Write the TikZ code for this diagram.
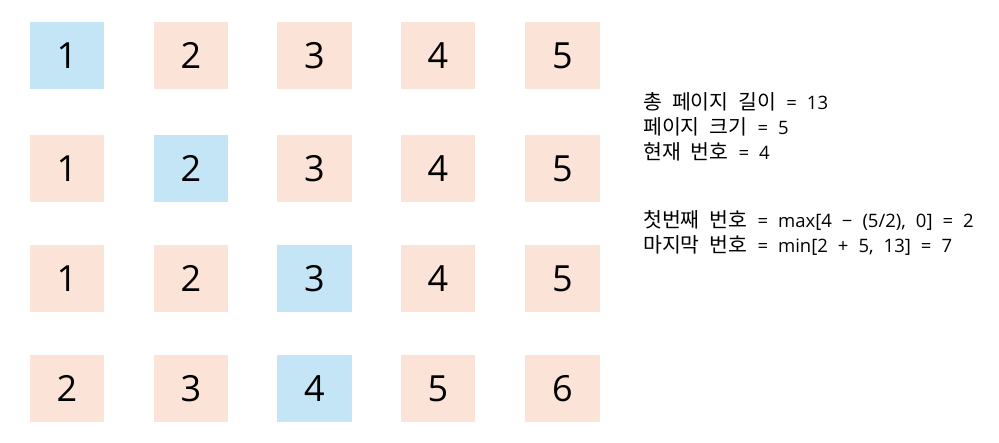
\documentclass[tikz,border=0pt]{standalone}
\usepackage{fontspec}
\setmainfont{Open Sans}
\newfontfamily\krfont{Noto Sans CJK KR}
\newcommand\kr[1]{{\krfont\fontsize{20.5}{22}\selectfont #1}}
\newcommand\infofont{\fontsize{18.5}{20}\selectfont\spaceskip 10pt\relax}
\definecolor{cellblue}{HTML}{C3E5F5}
\definecolor{cellorange}{HTML}{FBE4D7}
\begin{document}
\begin{tikzpicture}[x=1pt,y=-1pt,
  cell/.style={minimum width=74.5pt,minimum height=67pt,inner sep=0pt,outer sep=0pt,
    font=\fontsize{36}{40}\selectfont,text=black},
  cur/.style={cell,fill=cellblue},
  oth/.style={cell,fill=cellorange},
  info/.style={anchor=base west,inner sep=0pt,font=\infofont}]
\useasboundingbox (0,0) rectangle (999,442);
% row 1
\node[cur] (a1) at (67,55.5) {\raisebox{-2pt}{1}};
\node[oth] (a2) at (191,55.5) {\raisebox{-2pt}{2}};
\node[oth] (a3) at (314.5,55.5) {\raisebox{-2pt}{3}};
\node[oth] (a4) at (438,55.5) {\raisebox{-2pt}{4}};
\node[oth] (a5) at (562.5,55.5) {\raisebox{-2pt}{5}};
% row 2
\node[oth] (b1) at (67,168.5) {\raisebox{-2pt}{1}};
\node[cur] (b2) at (191,168.5) {\raisebox{-2pt}{2}};
\node[oth] (b3) at (314.5,168.5) {\raisebox{-2pt}{3}};
\node[oth] (b4) at (438,168.5) {\raisebox{-2pt}{4}};
\node[oth] (b5) at (562.5,168.5) {\raisebox{-2pt}{5}};
% row 3
\node[oth] (c1) at (67,278.5) {\raisebox{-2pt}{1}};
\node[oth] (c2) at (191,278.5) {\raisebox{-2pt}{2}};
\node[cur] (c3) at (314.5,278.5) {\raisebox{-2pt}{3}};
\node[oth] (c4) at (438,278.5) {\raisebox{-2pt}{4}};
\node[oth] (c5) at (562.5,278.5) {\raisebox{-2pt}{5}};
% row 4
\node[oth] (d1) at (67,388.5) {\raisebox{-2pt}{2}};
\node[oth] (d2) at (191,388.5) {\raisebox{-2pt}{3}};
\node[cur] (d3) at (314.5,388.5) {\raisebox{-2pt}{4}};
\node[oth] (d4) at (438,388.5) {\raisebox{-2pt}{5}};
\node[oth] (d5) at (562.5,388.5) {\raisebox{-2pt}{6}};
% info text
\node[info] (t1) at (643,109) {\kr{총} \kr{페이지} \kr{길이} = 13};
\node[info] (t2) at (643,134) {\kr{페이지} \kr{크기} = 5};
\node[info] (t3) at (643,159) {\kr{현재} \kr{번호} = 4};
\node[info] (t4) at (643,227) {\kr{첫번째} \kr{번호} = max[4 − (5/2), 0] = 2};
\node[info] (t5) at (643,252) {\kr{마지막} \kr{번호} = min[2 + 5, 13] = 7};
\end{tikzpicture}
\end{document}
